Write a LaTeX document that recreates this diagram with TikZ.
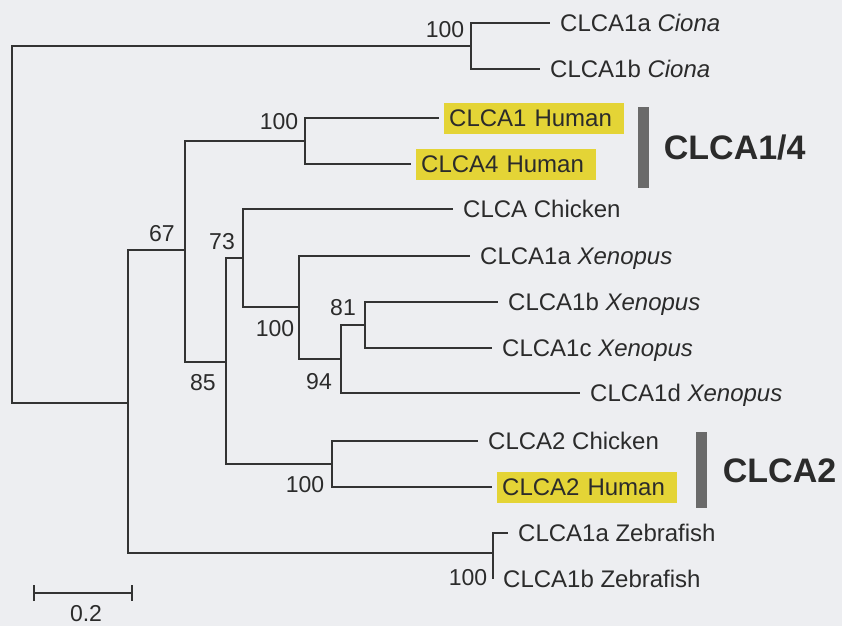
\documentclass[tikz,border=0pt]{standalone}
\usepackage{fontspec}
\setmainfont{Liberation Sans}
\usetikzlibrary{positioning,arrows.meta}
\definecolor{paperGray}{HTML}{EDEEF1}
\definecolor{inkGray}{HTML}{2B2B2B}
\definecolor{branchGray}{HTML}{333333}
\definecolor{markYellow}{HTML}{E4D436}
\definecolor{barGray}{HTML}{6A6A6A}
\tikzset{
    branch/.style={draw=branchGray,line width=2.2pt},
    tipbranch/.style={branch,shorten >=5pt},
    taxon/.style={anchor=west,inner xsep=5pt,inner ysep=2pt,
        text height=22pt,text depth=5pt,text=inkGray,font=\fontsize{24}{28}\selectfont},
    humantaxon/.style={taxon,fill=markYellow,text width=170pt,align=left},
    boot/.style={inner sep=0pt,text=inkGray,font=\fontsize{23}{27}\selectfont},
    groupbar/.style={fill=barGray,minimum width=11pt,inner sep=0pt},
    grouplabel/.style={inner sep=3pt,text height=24pt,text depth=0pt,
        text=inkGray,font=\fontsize{34}{40}\selectfont\bfseries}
}

\begin{document}
\begin{tikzpicture}[x=1pt,y=-1pt]
    \useasboundingbox (0,0) rectangle (842,626);
    \fill[paperGray] (0,0) rectangle (842,626);
    % inner nodes of the tree
    \coordinate (root) at (12,225);
    \coordinate (ciona) at (471,46);
    \coordinate (vert) at (128,403);
    \coordinate (n67) at (185,250);
    \coordinate (n14) at (305,141);
    \coordinate (n85) at (226,362);
    \coordinate (n73) at (243,258);
    \coordinate (nx) at (299,307);
    \coordinate (n94) at (341,359);
    \coordinate (n81) at (365,325);
    \coordinate (n2) at (332,464);
    \coordinate (zf) at (493,553);
    % taxa
    \node[taxon] (cia) at (555,23) {CLCA1a \textit{Ciona}};
    \node[taxon] (cib) at (545,69) {CLCA1b \textit{Ciona}};
    \node[humantaxon] (h1) at (444,118) {CLCA1 Human};
    \node[humantaxon] (h4) at (416,164) {CLCA4 Human};
    \node[taxon] (chk) at (458,209) {CLCA Chicken};
    \node[taxon] (xa) at (475,256) {CLCA1a \textit{Xenopus}};
    \node[taxon] (xb) at (503,302) {CLCA1b \textit{Xenopus}};
    \node[taxon] (xc) at (497,348) {CLCA1c \textit{Xenopus}};
    \node[taxon] (xd) at (585,393) {CLCA1d \textit{Xenopus}};
    \node[taxon] (chk2) at (483,441) {CLCA2 Chicken};
    \node[humantaxon] (h2) at (497,487) {CLCA2 Human};
    \node[taxon] (zfa) at (513,533) {CLCA1a Zebrafish};
    \node[taxon] (zfb) at (498,579) {CLCA1b Zebrafish};
    % branches
    \foreach \a/\b in {root/ciona,root/vert,vert/n67,vert/zf,n67/n14,n67/n85,
        n85/n73,n85/n2,n73/nx,nx/n94,n94/n81}
        \draw[branch] (\a) |- (\b);
    \foreach \a/\b in {ciona/cia,ciona/cib,zf/zfa,zf/zfb,n14/h1,n14/h4,n73/chk,
        nx/xa,n94/xd,n81/xb,n81/xc,n2/chk2,n2/h2}
        \draw[tipbranch] (\a) |- (\b.west);
    % bootstrap values
    \node[boot] (b1) at (445,30) {100};
    \node[boot] (b2) at (279,122) {100};
    \node[boot] (b3) at (162,234) {67};
    \node[boot] (b4) at (222,242) {73};
    \node[boot] (b5) at (343,308) {81};
    \node[boot] (b6) at (275,329) {100};
    \node[boot] (b7) at (203,383) {85};
    \node[boot] (b8) at (319,382) {94};
    \node[boot] (b9) at (305,485) {100};
    \node[boot] (b10) at (468,578) {100};
    % groups
    \node[groupbar,minimum height=81pt] (bar14) at (643,147.5) {};
    \node[grouplabel,right=12pt of bar14] (g14) {CLCA1/4};
    \node[groupbar,minimum height=76pt] (bar2) at (701,470) {};
    \node[grouplabel,right=13pt of bar2] (g2) {CLCA2};
    % scale
    \coordinate (sbl) at (33,593);
    \coordinate (sbr) at (133,593);
    \draw[branch,{Bar[width=16pt]}-{Bar[width=16pt]}] (sbl) -- (sbr);
    \node[boot] (sbt) at (86,614) {0.2};
\end{tikzpicture}
\end{document}
